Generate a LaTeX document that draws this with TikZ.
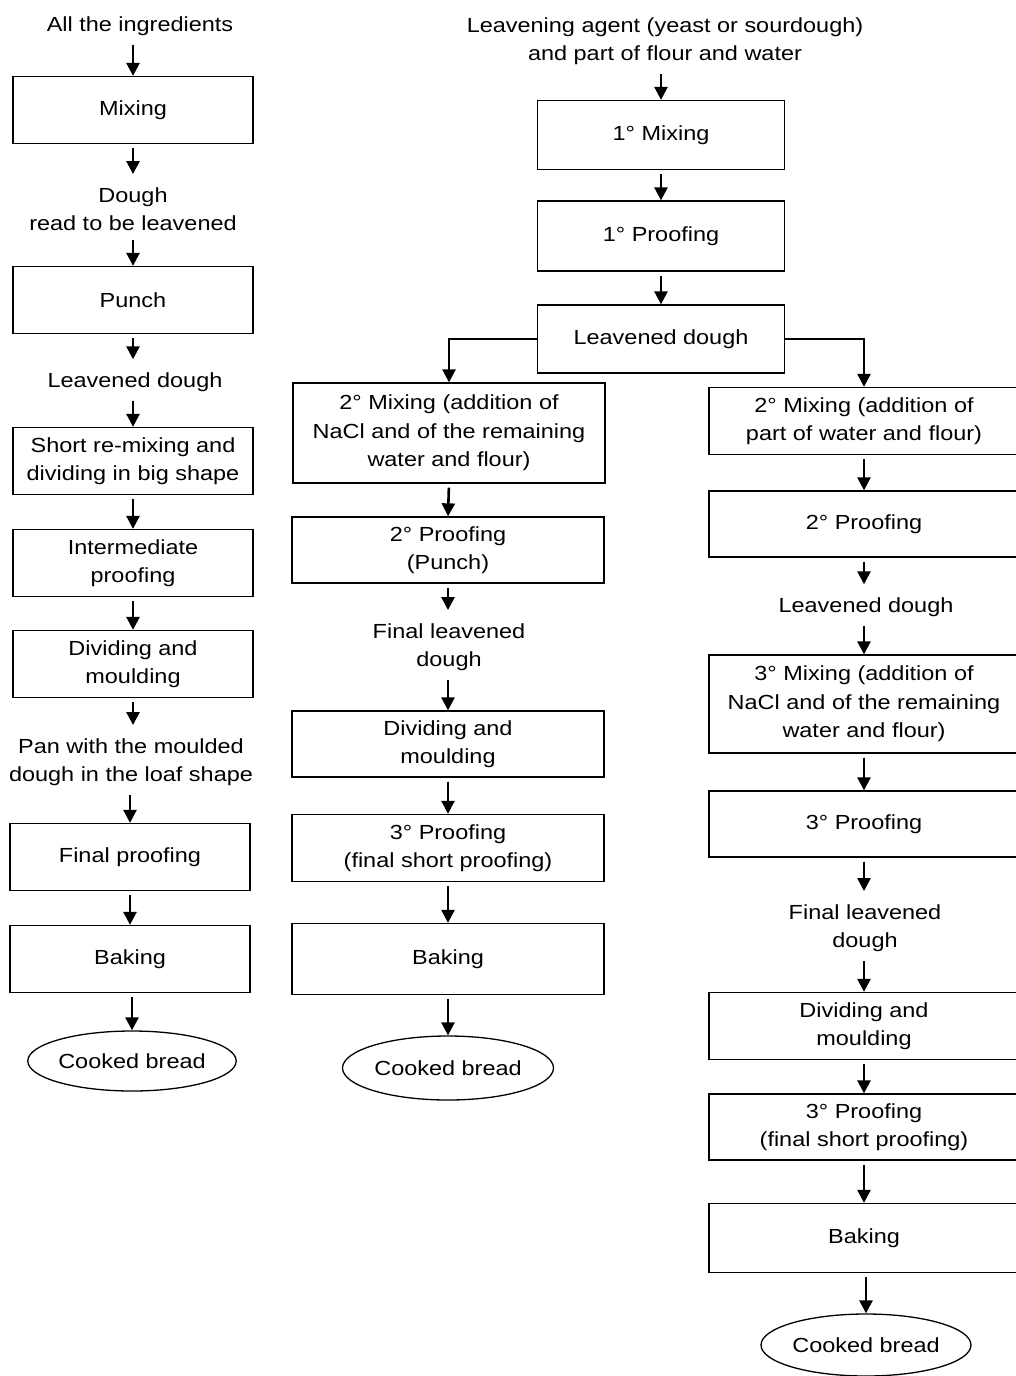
\documentclass[tikz,border=0pt]{standalone}
\usepackage{fontspec}
\setmainfont{Liberation Sans}[FakeStretch=1.15]
\usetikzlibrary{arrows.meta,shapes.geometric}

\begin{document}
\begin{tikzpicture}[x=1pt, y=-1pt, >={Triangle[length=13pt,width=13pt]},
  every node/.style={font=\fontsize{20.4}{28.5}\selectfont},
  box/.style={draw, line width=1.3pt, align=center, minimum height=67pt, inner sep=2pt},
  lbl/.style={align=center, inner xsep=2pt, inner ysep=5pt},
  bread/.style={draw, ellipse, line width=1.3pt, inner sep=0pt},
  flow/.style={->, line width=2.6pt, shorten <=4pt},
  tolbl/.style={shorten >=8pt}]
  \useasboundingbox (0,0) rectangle (1015,1376);

  % ==================== LEFT COLUMN ====================
  \begin{scope}[every node/.append style={minimum width=240pt}]
    \node[lbl, minimum width=0pt] (ingL) at (140,26) {All the ingredients};
    \node[box] (mixL) at (133,110) {Mixing};
    \node[lbl, minimum width=0pt] (doughL) at (133,209) {Dough\\read to be leavened};
    \node[box] (punchL) at (133,300) {Punch};
    \node[lbl, minimum width=0pt] (leavL) at (135,382) {Leavened dough};
    \node[box] (remixL) at (133,461) {Short re-mixing and\\dividing in big shape};
    \node[box] (interL) at (133,563) {Intermediate\\proofing};
    \node[box] (divL) at (133,664) {Dividing and\\moulding};
    \node[lbl, minimum width=0pt] (panL) at (131,762) {Pan with the moulded\\dough in the loaf shape};
    \node[box] (finL) at (130,857) {Final proofing};
    \node[box] (bakeL) at (130,959) {Baking};
  \end{scope}
  \node[bread, minimum width=204pt, minimum height=60pt] (breadL) at (132,1061) {Cooked bread};

  % flechas
  \draw[flow] (ingL.south -| mixL.north) -- (mixL.north);
  \draw[flow, tolbl] (mixL.south) -- (mixL.south |- doughL.north);
  \draw[flow] (doughL.south -| punchL.north) -- (punchL.north);
  \draw[flow, tolbl] (punchL.south) -- (punchL.south |- leavL.north);
  \draw[flow] (leavL.south -| remixL.north) -- (remixL.north);
  \draw[flow] (remixL.south) -- (interL.north);
  \draw[flow] (interL.south) -- (divL.north);
  \draw[flow, tolbl] (divL.south) -- (divL.south |- panL.north);
  \draw[flow] (panL.south -| finL.north) -- (finL.north);
  \draw[flow] (finL.south) -- (bakeL.north);
  \draw[flow] (bakeL.south -| breadL.north) -- (breadL.north);

  % ==================== MIDDLE COLUMN ====================
  \node[lbl] (ingM) at (665,41) {Leavening agent (yeast or sourdough)\\and part of flour and water};
  \node[box, minimum width=247pt, minimum height=69pt] (mix1M) at (661,135) {1° Mixing};
  \node[box, minimum width=247pt, minimum height=70pt] (proof1M) at (661,236) {1° Proofing};
  \node[box, minimum width=247pt, minimum height=68pt] (lvM) at (661,339) {Leavened dough};
  \begin{scope}[every node/.append style={minimum width=312pt}]
    \node[box, minimum height=100pt] (mix2M) at (449,433) {2° Mixing (addition of\\NaCl and of the remaining\\water and flour)};
    \node[box, minimum height=66pt] (proof2M) at (448,550) {2° Proofing\\(Punch)};
    \node[lbl, minimum width=0pt] (finlvM) at (449,647) {Final leavened\\dough};
    \node[box, minimum height=66pt] (divM) at (448,744) {Dividing and\\moulding};
    \node[box] (proof3M) at (448,848) {3° Proofing\\(final short proofing)};
    \node[box, minimum height=71pt] (bakeM) at (448,959) {Baking};
  \end{scope}
  \node[bread, minimum width=211pt, minimum height=64pt] (breadM) at (448,1068) {Cooked bread};

  % flechas
  \draw[flow] (ingM.south -| mix1M.north) -- (mix1M.north);
  \draw[flow] (mix1M.south) -- (proof1M.north);
  \draw[flow] (proof1M.south) -- (lvM.north);
  \draw[flow, shorten <=0pt] (lvM.west) -| (mix2M.north);
  \draw[flow] (mix2M.south) -- (proof2M.north);
  \draw[flow, tolbl] (proof2M.south) -- (proof2M.south |- finlvM.north);
  \draw[flow] (finlvM.south -| divM.north) -- (divM.north);
  \draw[flow] (divM.south) -- (proof3M.north);
  \draw[flow] (proof3M.south) -- (bakeM.north);
  \draw[flow] (bakeM.south) -- (breadM.north);

  % ==================== RIGHT COLUMN ====================
  \begin{scope}[every node/.append style={minimum width=310pt}]
    \node[box] (mix2R) at (864,421) {2° Mixing (addition of\\part of water and flour)};
    \node[box, minimum height=66pt] (proof2R) at (864,524) {2° Proofing};
    \node[lbl, minimum width=0pt] (lvR) at (866,607) {Leavened dough};
    \node[box, minimum height=98pt] (mix3R) at (864,704) {3° Mixing (addition of\\NaCl and of the remaining\\water and flour)};
    \node[box, minimum height=66pt] (proof3R) at (864,824) {3° Proofing};
    \node[lbl, minimum width=0pt] (finlvR) at (865,928) {Final leavened\\dough};
    \node[box] (divR) at (864,1026) {Dividing and\\moulding};
    \node[box, minimum height=66pt] (proof4R) at (864,1127) {3° Proofing\\(final short proofing)};
    \node[box, minimum height=69pt] (bakeR) at (864,1238) {Baking};
  \end{scope}
  \node[bread, minimum width=210pt, minimum height=62pt] (breadR) at (866,1345) {Cooked bread};

  % flechas
  \draw[flow, shorten <=0pt] (lvM.east) -| (mix2R.north);
  \draw[flow] (mix2R.south) -- (proof2R.north);
  \draw[flow, tolbl] (proof2R.south) -- (proof2R.south |- lvR.north);
  \draw[flow] (lvR.south -| mix3R.north) -- (mix3R.north);
  \draw[flow] (mix3R.south) -- (proof3R.north);
  \draw[flow, tolbl] (proof3R.south) -- (proof3R.south |- finlvR.north);
  \draw[flow] (finlvR.south -| divR.north) -- (divR.north);
  \draw[flow] (divR.south) -- (proof4R.north);
  \draw[flow] (proof4R.south) -- (bakeR.north);
  \draw[flow] (bakeR.south -| breadR.north) -- (breadR.north);
\end{tikzpicture}
\end{document}
